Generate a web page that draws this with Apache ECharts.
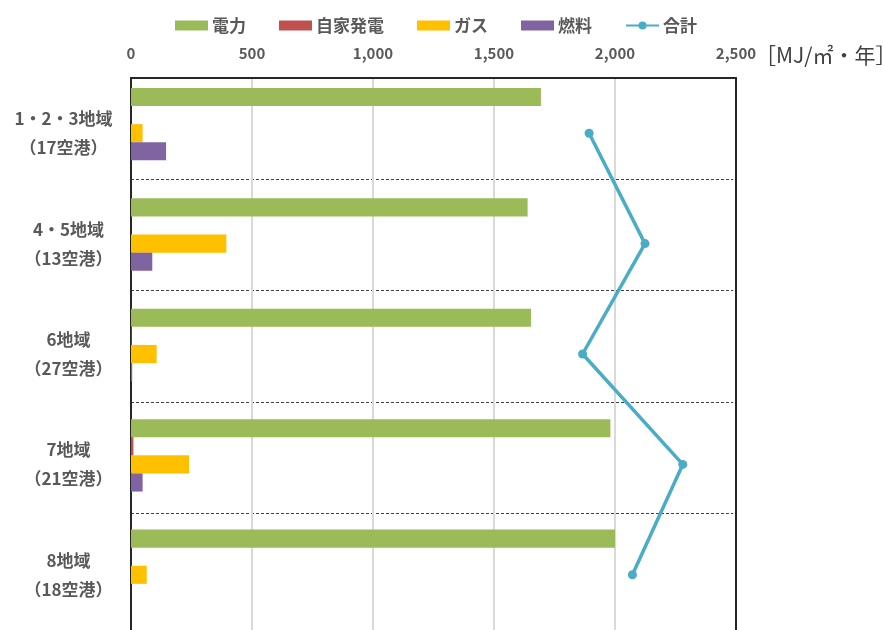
<!DOCTYPE html>
<html><head><meta charset="utf-8">
<script src="https://cdn.jsdelivr.net/npm/echarts@6/dist/echarts.min.js"></script>
<style>html,body{margin:0;padding:0;background:#fff}#c{width:884px;height:630px}</style>
</head><body><div id="c"></div>
<script>
const categories = ['1・2・3地域\n（17空港）', '4・5地域\n（13空港）', '6地域\n（27空港）', '7地域\n（21空港）', '8地域\n（18空港）'];
const electricity = [1694, 1639, 1653, 1981, 2000];
const selfGen = [0, 0, 2, 10, 0];
const gas = [48, 394, 106, 240, 65];
const fuel = [145, 88, 5, 48, 0];
const total = [1893, 2124, 1866, 2280, 2072];
const xTicks = { min: 0, max: 2500, interval: 500 };
const unitLabel = '［MJ/㎡・年］';

const FONT = '"Noto Sans CJK JP", "Noto Sans", sans-serif';
const GRAY = '#595959';
const FRAME = '#262626';

// measure label lines so each label's lines are centred in its own block
const ctx = document.createElement('canvas').getContext('2d');
const labelFontSize = 17;
ctx.font = 'bold ' + labelFontSize + 'px "Noto Sans CJK JP"';
const rich = {};
categories.forEach((c, i) => {
  const w = Math.max(...c.split('\n').map(l => ctx.measureText(l).width));
  rich['c' + i] = { width: Math.ceil(w), align: 'center', fontSize: labelFontSize, fontWeight: 'bold', color: GRAY, fontFamily: FONT, lineHeight: 29 };
});

const chart = echarts.init(document.getElementById('c'), null, { renderer: 'canvas' });
const barBase = { type: 'bar', barGap: '0%', barCategoryGap: '18%' };
chart.setOption({
  animation: false,
  textStyle: { fontFamily: FONT },
  title: { text: unitLabel, left: 750, top: 40, textStyle: { fontSize: 21, fontWeight: 'normal', color: '#404040', fontFamily: FONT } },
  legend: {
    left: 170, top: 12, itemWidth: 33, itemHeight: 10, itemGap: 33,
    textStyle: { fontSize: 17, color: GRAY, fontWeight: 'bold', fontFamily: FONT, padding: [0, 0, 0, -1] },
    data: [
      { name: '電力', icon: 'rect' }, { name: '自家発電', icon: 'rect' },
      { name: 'ガス', icon: 'rect' }, { name: '燃料', icon: 'rect' }, { name: '合計' }
    ]
  },
  grid: [
    { left: 131, right: 148, top: 78, height: 556 },
    { left: 131, right: 151, top: 179.5, height: 333.6 }
  ],
  xAxis: [
    {
      type: 'value', position: 'top', gridIndex: 0, min: xTicks.min, max: xTicks.max, interval: xTicks.interval,
      axisLine: { show: true, onZero: false, lineStyle: { color: FRAME, width: 2 } },
      axisTick: { show: false },
      axisLabel: { color: GRAY, fontSize: 15, fontWeight: 'bold', margin: 17, fontFamily: FONT,
        formatter: v => v.toLocaleString('en-US') },
      splitLine: { show: true, lineStyle: { color: '#D9D9D9', width: 2 } }
    },
    { type: 'value', gridIndex: 1, min: xTicks.min, max: xTicks.max, show: false, splitLine: { show: false } }
  ],
  yAxis: [
    {
      type: 'category', inverse: true, gridIndex: 0, data: categories,
      axisLine: { show: true, onZero: false, lineStyle: { color: FRAME, width: 2 } },
      axisTick: { show: false },
      splitLine: { show: false },
      axisLabel: { margin: 18, align: 'right',
        formatter: (v, i) => v.split('\n').map(l => '{c' + i + '|' + l + '}').join('\n'),
        rich: rich }
    },
    {
      type: 'category', inverse: true, gridIndex: 1, boundaryGap: false,
      data: categories.slice(0, -1),
      axisLine: { show: false }, axisTick: { show: false }, axisLabel: { show: false },
      splitLine: { show: true, lineStyle: { color: '#404040', width: 1, type: [3, 2] } }
    },
    {
      type: 'value', gridIndex: 0, position: 'right', min: 0, max: 1,
      axisLine: { show: true, onZero: false, lineStyle: { color: FRAME, width: 2 } },
      axisTick: { show: false }, axisLabel: { show: false }, splitLine: { show: false }
    }
  ],
  series: [
    Object.assign({ name: '電力', data: electricity, itemStyle: { color: '#9BBB59' } }, barBase),
    Object.assign({ name: '自家発電', data: selfGen, itemStyle: { color: '#C0504D' } }, barBase),
    Object.assign({ name: 'ガス', data: gas, itemStyle: { color: '#FFC000' } }, barBase),
    Object.assign({ name: '燃料', data: fuel, itemStyle: { color: '#8064A2' } }, barBase),
    Object.assign({ name: '合計(棒)', data: total, itemStyle: { color: 'rgba(0,0,0,0)' }, silent: true }, barBase),
    { name: '合計', type: 'line', data: total, symbol: 'circle', symbolSize: 9, z: 5,
      itemStyle: { color: '#4BACC6' }, lineStyle: { color: '#4BACC6', width: 3.5 } }
  ]
});
</script></body></html>
